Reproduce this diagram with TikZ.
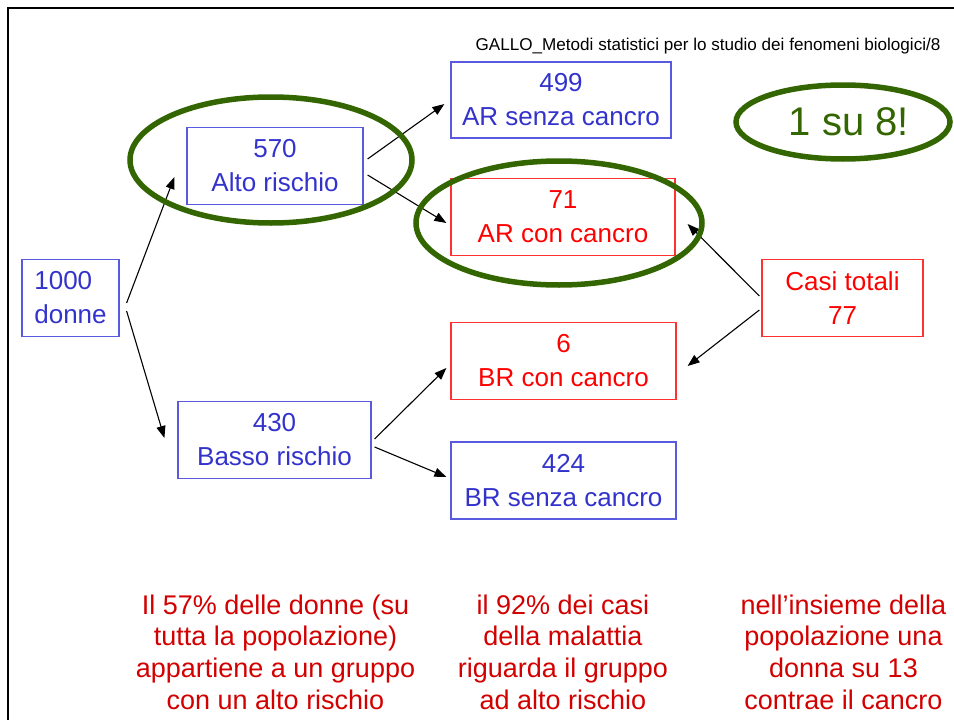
\documentclass[tikz,border=0pt]{standalone}
\usepackage{fontspec}
\setmainfont{Liberation Sans}
\usepackage{tikz}
\usetikzlibrary{arrows.meta}
\usetikzlibrary{shapes.geometric}
\usetikzlibrary{calc}
\definecolor{bluetxt}{RGB}{51,51,204}
\definecolor{blueline}{RGB}{90,90,225}
\definecolor{redtxt}{RGB}{255,0,0}
\definecolor{redline}{RGB}{255,50,50}
\definecolor{notered}{RGB}{210,0,0}
\definecolor{ringgreen}{RGB}{51,102,0}
\tikzstyle{bluebox}=[draw=blueline,text=bluetxt,line width=1.2pt,align=center,
                minimum height=77pt,inner sep=0pt,font=\fontsize{26}{34}\selectfont]
\tikzstyle{redbox}=[bluebox,draw=redline,text=redtxt]
\tikzstyle{ring}=[draw=ringgreen,line width=5.5pt]
\tikzstyle{arr}=[-{Triangle[length=12pt,width=9pt]},line width=1.1pt]
\tikzstyle{note}=[text=notered,align=center,font=\fontsize{27}{31.7}\selectfont]

\begin{document}
\begin{tikzpicture}[x=1pt,y=-1pt]
\useasboundingbox (0,0) rectangle (954,720);
\draw[line width=2pt] (8,720) -- (8,8) -- (954,8);
\node (head) at (944,46)[anchor=east,font=\fontsize{17.1}{19}\selectfont]
  {GALLO\_Metodi statistici per lo studio dei fenomeni biologici/8};
% boxes
\node (donne) at (70.5,298)[bluebox,minimum width=97pt,align=left]{1000\\donne};
\node (alto) at (275,166)[bluebox,minimum width=176pt]{570\\Alto rischio};
\node (basso) at (274.5,440)[bluebox,minimum width=193pt]{430\\Basso rischio};
\node (arsenza) at (561,100)[bluebox,minimum width=220pt,minimum height=76pt]{499\\AR senza cancro};
\node (arcon) at (563,217)[redbox,minimum width=224pt]{71\\AR con cancro};
\node (brcon) at (563.5,361)[redbox,minimum width=225pt]{6\\BR con cancro};
\node (brsenza) at (563.5,480.5)[bluebox,minimum width=225pt]{424\\BR senza cancro};
\node (casi) at (842.5,298)[redbox,minimum width=161pt]{Casi totali\\77};
% arrows
\draw[arr] ([shift={(7,5)}]donne.east) -- ([shift={(-12,11)}]alto.west);
\draw[arr] ([shift={(7,13)}]donne.east) -- ([shift={(-13,-2)}]basso.west);
\draw[arr] ([shift={(4,-7)}]alto.east) -- ([shift={(-6,4)}]arsenza.west);
\draw[arr] ([shift={(4,9)}]alto.east) -- ([shift={(-4,6)}]arcon.west);
\draw[arr] ([shift={(3,-1)}]basso.east) -- ([shift={(-4,7)}]brcon.west);
\draw[arr] ([shift={(3,7)}]basso.east) -- ([shift={(-4,-3.5)}]brsenza.west);
\draw[arr] ([shift={(-2,-2)}]casi.west) -- ([shift={(12,7)}]arcon.east);
\draw[arr] ([shift={(-2,12)}]casi.west) -- ([shift={(11,5)}]brcon.east);
% rings
\draw[ring] ([shift={(-4,-6)}]alto.center) ellipse [x radius=141,y radius=63];
\draw[ring] ([shift={(-4,6)}]arcon.center) ellipse [x radius=143,y radius=62];
\node (otto) at (843,122)[ellipse,ring,text=ringgreen,minimum width=214pt,minimum height=74pt,
  inner sep=0pt,font=\fontsize{40}{40}\selectfont]{\hspace{12pt}1 su 8!};
% notes
\node (nota1) at (275.5,652)[note]{Il 57\% delle donne (su\\tutta la popolazione)\\appartiene a un gruppo\\con un alto rischio};
\node (nota2) at (563,652)[note]{il 92\% dei casi\\della malattia\\riguarda il gruppo\\ad alto rischio};
\node (nota3) at (843.5,652)[note]{nell’insieme della\\popolazione una\\donna su 13\\contrae il cancro};
\end{tikzpicture}
\end{document}
